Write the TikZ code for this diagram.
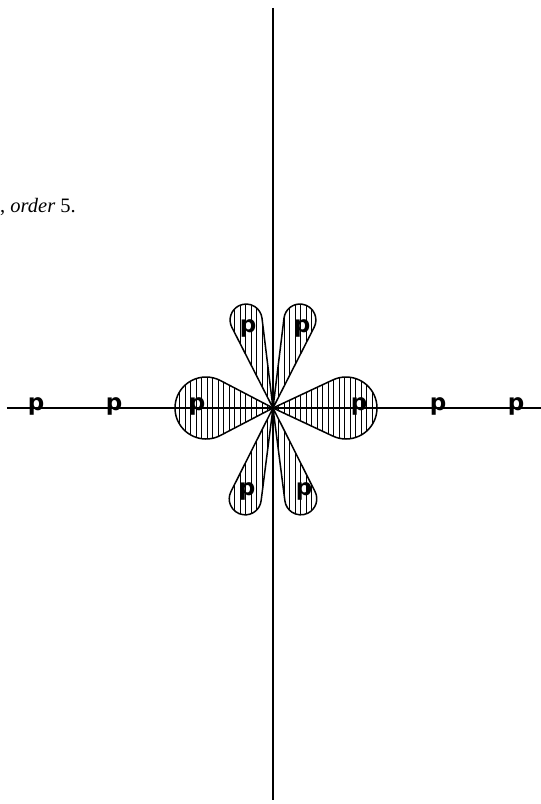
\documentclass[tikz,border=0pt]{standalone}
\usepackage{fontspec}
\setmainfont{Liberation Serif}
\newfontfamily\plfont{DejaVu Sans}
\usetikzlibrary{calc}

\tikzstyle{axis} = [line width=1.1pt]
\tikzstyle{petal} = [line width=1.5pt, line join=round]
\tikzstyle{hatch} = [line width=0.5pt]
\tikzstyle{plabel} = [font=\plfont\bfseries\fontsize{23}{23}\selectfont, inner sep=0pt, anchor=mid]

\begin{document}
\begin{tikzpicture}[x=1pt, y=1pt]
    \useasboundingbox (-273,-396) rectangle (268,408);

    % Caption fragment
    \node[anchor=base west, inner sep=0pt, font=\fontsize{20.5}{22}\selectfont] (caption) at (-273,196) {, \textit{order} 5.};

    % Axes
    \coordinate (origin) at (0,0);
    \coordinate (xleft) at (-266,0);
    \coordinate (xright) at (268,0);
    \coordinate (ytop) at (0,400);
    \coordinate (ybottom) at (0,-392);
    \draw[axis] (xleft) -- (xright);
    \draw[axis] (ytop) -- (ybottom);

    % Petals: angle / distance of bulb centre / bulb radius
    \foreach \ang/\dist/\rad in {0/73/31, 180/67/31, 107/92/16, 73/92/16, 253/95/16, 287/95/16}
    {
        \pgfmathsetmacro{\bet}{asin(\rad/\dist)}
        \pgfmathsetmacro{\tlen}{sqrt(\dist*\dist-\rad*\rad)}
        \begin{scope}
            \clip (origin) -- (\ang+\bet:\tlen) arc[start angle=\ang+90+\bet, end angle=\ang-90-\bet, radius=\rad] -- cycle;
            \foreach \x in {-110,-104.5,...,110}
                \draw[hatch] (\x,-120) -- (\x,120);
        \end{scope}
        \draw[petal] (origin) -- (\ang+\bet:\tlen) arc[start angle=\ang+90+\bet, end angle=\ang-90-\bet, radius=\rad] -- cycle;
    }

    % Labels on the axis
    \node[plabel] (pw3) at (-237,0) {p};
    \node[plabel] (pw2) at (-159,0) {p};
    \node[plabel] (pw1) at (-76,0) {p};
    \node[plabel] (pe1) at (86,0) {p};
    \node[plabel] (pe2) at (165,0) {p};
    \node[plabel] (pe3) at (243,0) {p};

    % Labels in the slanted petals
    \node[plabel] (pnw) at (-25,78) {p};
    \node[plabel] (pne) at (29,78) {p};
    \node[plabel] (psw) at (-26,-85) {p};
    \node[plabel] (pse) at (31,-85) {p};
\end{tikzpicture}
\end{document}
